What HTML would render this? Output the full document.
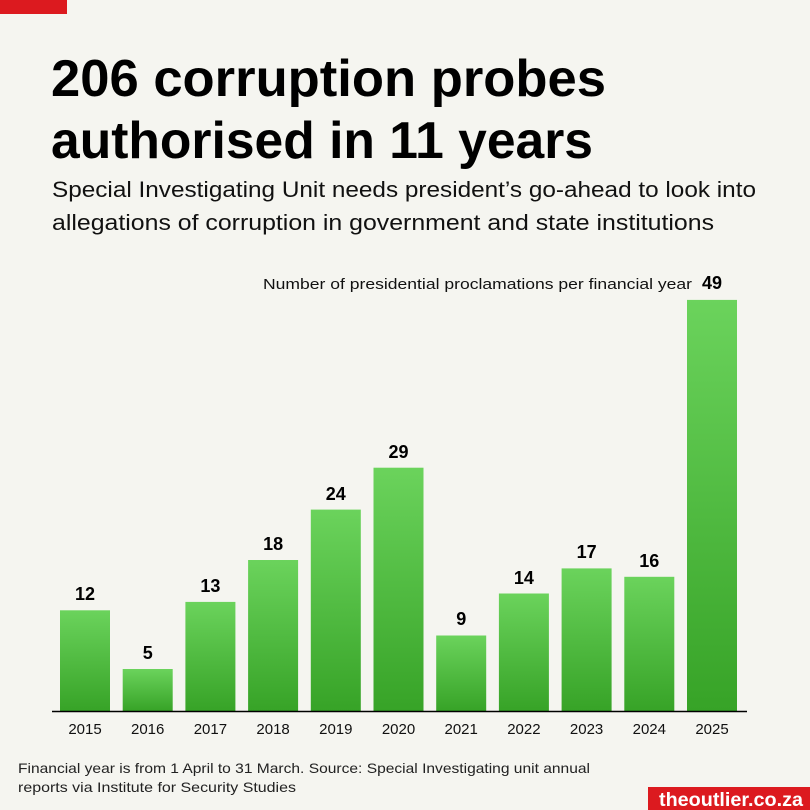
<!DOCTYPE html>
<html><head><meta charset="utf-8"><style>
html,body{margin:0;padding:0;background:#f5f5f0;}
svg{display:block;font-family:"Liberation Sans",sans-serif;}
</style></head><body>
<svg width="810" height="810" viewBox="0 0 810 810" xmlns="http://www.w3.org/2000/svg">
<defs><linearGradient id="g" x1="0" y1="0" x2="0" y2="1">
<stop offset="0" stop-color="#6bd35c"/><stop offset="1" stop-color="#37a327"/></linearGradient></defs>
<rect width="810" height="810" fill="#f5f5f0"/>
<rect x="0" y="0" width="67" height="14" fill="#dc1a1f"/>
<g font-family="'Liberation Sans Narrow','Liberation Sans',sans-serif" font-weight="bold" font-size="52" fill="#000">
<text x="51" y="96" textLength="555" lengthAdjust="spacingAndGlyphs">206 corruption probes</text>
<text x="51" y="158" textLength="542" lengthAdjust="spacingAndGlyphs">authorised in 11 years</text>
</g>
<g font-size="22" fill="#111">
<text x="52" y="197" textLength="704" lengthAdjust="spacingAndGlyphs">Special Investigating Unit needs president’s go-ahead to look into</text>
<text x="52" y="230" textLength="662" lengthAdjust="spacingAndGlyphs">allegations of corruption in government and state institutions</text>
</g>
<text x="263" y="289" font-size="15" fill="#111" textLength="429" lengthAdjust="spacingAndGlyphs">Number of presidential proclamations per financial year</text>
<g fill="url(#g)">
<rect x="60" y="610.3" width="50" height="100.7"/>
<rect x="122.7" y="669" width="50" height="42"/>
<rect x="185.4" y="601.9" width="50" height="109.1"/>
<rect x="248.1" y="560" width="50" height="151"/>
<rect x="310.8" y="509.6" width="50" height="201.4"/>
<rect x="373.5" y="467.7" width="50" height="243.3"/>
<rect x="436.2" y="635.5" width="50" height="75.5"/>
<rect x="498.9" y="593.5" width="50" height="117.5"/>
<rect x="561.6" y="568.4" width="50" height="142.6"/>
<rect x="624.3" y="576.8" width="50" height="134.2"/>
<rect x="687" y="299.9" width="50" height="411.1"/>
</g>
<g font-size="18" font-weight="bold" fill="#000" text-anchor="middle">
<text x="85" y="600">12</text>
<text x="147.7" y="659">5</text>
<text x="210.4" y="592">13</text>
<text x="273.1" y="550">18</text>
<text x="335.8" y="500">24</text>
<text x="398.5" y="458">29</text>
<text x="461.2" y="625">9</text>
<text x="523.9" y="584">14</text>
<text x="586.6" y="558">17</text>
<text x="649.3" y="567">16</text>
<text x="712" y="289">49</text>
</g>
<g font-size="15" fill="#111" text-anchor="middle">
<text x="85" y="734">2015</text>
<text x="147.7" y="734">2016</text>
<text x="210.4" y="734">2017</text>
<text x="273.1" y="734">2018</text>
<text x="335.8" y="734">2019</text>
<text x="398.5" y="734">2020</text>
<text x="461.2" y="734">2021</text>
<text x="523.9" y="734">2022</text>
<text x="586.6" y="734">2023</text>
<text x="649.3" y="734">2024</text>
<text x="712" y="734">2025</text>
</g>
<line x1="52" y1="711.5" x2="747" y2="711.5" stroke="#000" stroke-width="1.5"/>
<g font-size="14" fill="#222">
<text x="18" y="773" textLength="572" lengthAdjust="spacingAndGlyphs">Financial year is from 1 April to 31 March. Source: Special Investigating unit annual</text>
<text x="18" y="792" textLength="278" lengthAdjust="spacingAndGlyphs">reports via Institute for Security Studies</text>
</g>
<rect x="648" y="787" width="162" height="23" fill="#dc1a1f"/>
<text x="659" y="806" font-size="19" font-weight="bold" fill="#fff" textLength="144" lengthAdjust="spacingAndGlyphs">theoutlier.co.za</text>
</svg>
</body></html>
